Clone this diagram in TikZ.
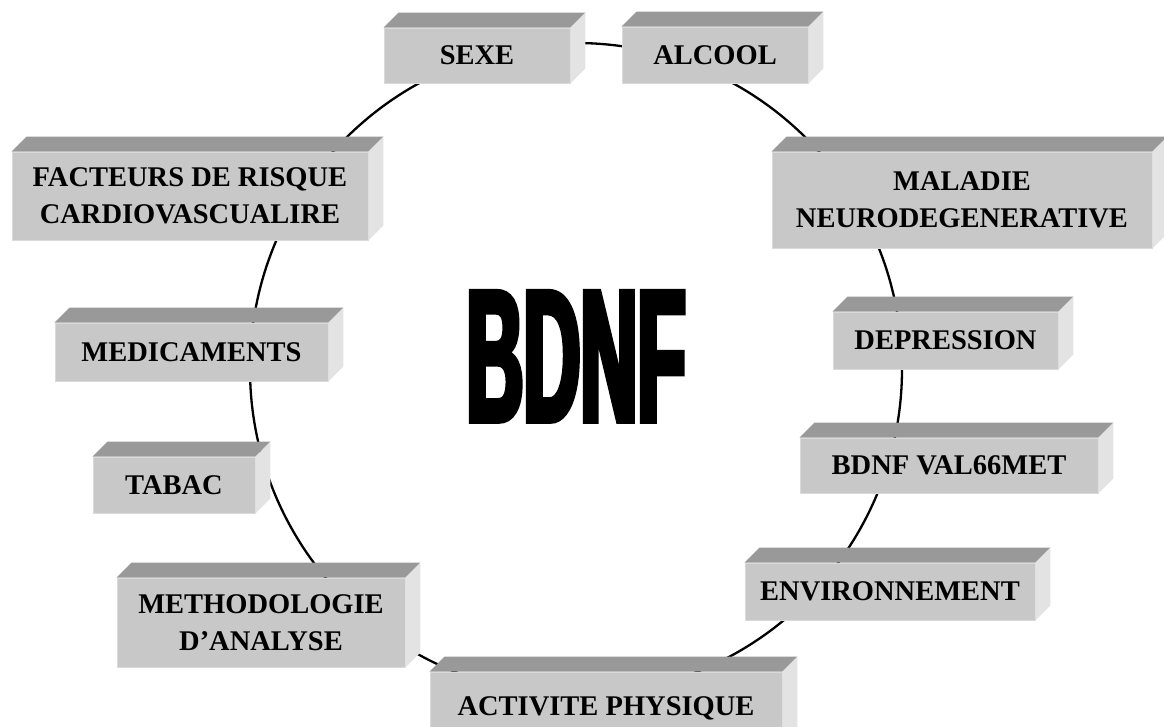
\documentclass[tikz,border=0pt]{standalone}
\usepackage{fontspec}
\setmainfont{Liberation Serif}
\newfontfamily\bdnffont{Liberation Sans}[UprightFont={* Bold}, FakeStretch=0.42, FakeBold=3]
\definecolor{frontc}{RGB}{200,200,200}
\definecolor{topc}{RGB}{153,153,153}
\definecolor{sidec}{RGB}{227,227,227}
\definecolor{edgec}{RGB}{218,218,218}
\tikzset{
  cube/.style={fill=frontc, draw=edgec, line width=0.8pt, inner sep=0pt, align=center,
    font=\fontsize{28.5}{37}\selectfont\bfseries},
  ringline/.style={draw=black, line width=2.3pt},
  topface/.style={fill=topc},
  sideface/.style={fill=sidec},
}
\newcommand\cubebox[6]{%
  \node[cube, minimum width={#4-#2}, minimum height={#5-#3}] (#1) at ({(#2+#4)/2},{(#3+#5)/2}) {#6};
  \fill[topface] (#1.north west) -- ++(15,-15) -- ([shift={(15,-15)}]#1.north east) -- (#1.north east) -- cycle;
  \fill[sideface] (#1.north east) -- ++(15,-15) -- ([shift={(15,-15)}]#1.south east) -- (#1.south east) -- cycle;
}
\begin{document}
\begin{tikzpicture}[x=1pt,y=-1pt]
\useasboundingbox (0,0) rectangle (1164,727);
\clip (0,0) rectangle (1164,727);
\node[circle, ringline, minimum size=652pt, inner sep=0pt] (ring) at (576,369) {};
\cubebox{sexe}{384}{28}{570}{83}{SEXE}
\cubebox{alcool}{622}{27}{808}{83}{ALCOOL}
\cubebox{facteurs}{12}{152}{368}{240}{FACTEURS DE RISQUE\\CARDIOVASCUALIRE}
\cubebox{maladie}{772}{152}{1152}{248}{MALADIE\\NEURODEGENERATIVE}
\cubebox{depression}{833}{312}{1058}{369}{DEPRESSION}
\cubebox{val}{800}{438}{1098}{493}{BDNF VAL66MET}
\cubebox{envir}{745}{563}{1035}{620}{ENVIRONNEMENT}
\cubebox{activite}{430}{672}{782}{745}{ACTIVITE PHYSIQUE}
\cubebox{methodo}{117}{578}{405}{667}{METHODOLOGIE\\D’ANALYSE}
\cubebox{tabac}{93}{457}{255}{513}{TABAC}
\cubebox{medic}{55}{323}{328}{381}{MEDICAMENTS}
\node[anchor=base, inner sep=0pt, font=\bdnffont\fontsize{188}{188}\selectfont] (bdnf) at (576,421) {BDNF};
\end{tikzpicture}
\end{document}
